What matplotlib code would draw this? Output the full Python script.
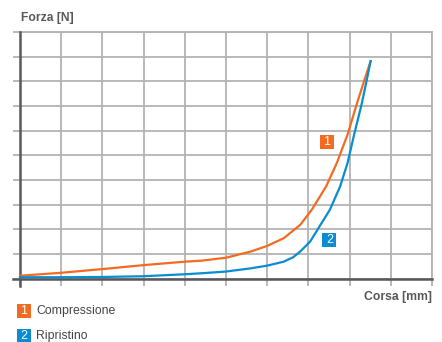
import matplotlib
matplotlib.use("Agg")
import matplotlib.pyplot as plt
from matplotlib.patches import Rectangle

# curve values (arbitrary units, 10 grid cells per axis)
comp_x = [0, 1, 2, 3, 4, 4.4, 5, 5.6, 6, 6.4, 6.8, 7.08, 7.43, 7.69, 7.95, 8.17, 8.35, 8.51]
comp_y = [0.12, 0.24, 0.39, 0.55, 0.69, 0.73, 0.85, 1.1, 1.33, 1.64, 2.18, 2.79, 3.74, 4.69, 5.84, 7.06, 8.0, 8.82]
rip_x = [0, 1, 2, 3, 4, 4.4, 5, 5.6, 6, 6.4, 6.63, 6.8, 7.04, 7.3, 7.52, 7.77, 7.95, 8.11, 8.29, 8.41, 8.51]
rip_y = [0.06, 0.06, 0.07, 0.1, 0.18, 0.22, 0.29, 0.42, 0.53, 0.69, 0.87, 1.1, 1.5, 2.2, 2.79, 3.74, 4.69, 5.84, 7.06, 8.0, 8.82]
labels = ["Compressione", "Ripristino"]
tag_pos = [(7.45, 5.56), (7.51, 1.57)]

ORANGE = "#F26B21"
BLUE = "#0A8DD0"
GRID = "#b3b3b6"
DARK = "#58585a"

plt.rcParams["font.family"] = ["Liberation Sans", "DejaVu Sans"]

W, H = 442, 342
fig = plt.figure(figsize=(W / 100, H / 100), dpi=100)
ax = fig.add_axes([20 / W, (H - 278.7) / H, 412 / W, 246.7 / H])
ax.set_xlim(0, 10)
ax.set_ylim(0, 10)
ax.set_xticks(range(11))
ax.set_yticks(range(11))
ax.set_xticklabels([])
ax.set_yticklabels([])
ax.grid(True, color=GRID, linewidth=1.3)
ax.tick_params(length=5, width=1.3, color=GRID)
for s in ["top", "right"]:
    ax.spines[s].set_color(GRID)
    ax.spines[s].set_linewidth(1.3)
for s in ["left", "bottom"]:
    ax.spines[s].set_visible(False)
ax.set_axisbelow(True)

# dark axes that stick out past the origin
ax.plot([-0.17, 10], [0, 0], color=DARK, lw=1.8, clip_on=False, zorder=3)
ax.plot([0, 0], [-0.28, 10], color=DARK, lw=1.8, clip_on=False, zorder=3)

ax.plot(comp_x, comp_y, color=ORANGE, lw=1.6, zorder=4, clip_on=False,
        solid_joinstyle="round")
ax.plot(rip_x, rip_y, color=BLUE, lw=1.6, zorder=4, clip_on=False,
        solid_joinstyle="round")


def tag(x, y, n, col, trans, w, h):
    # small numbered square, w/h are its size in the given coordinates
    fig.add_artist(Rectangle((x - w / 2, y - h / 2), w, h, transform=trans,
                             fc=col, lw=0, zorder=5))
    fig.text(x, y, str(n), transform=trans, color="white", fontsize=9,
             ha="center", va="center", zorder=6)


for i, col in enumerate([ORANGE, BLUE]):
    tx, ty = tag_pos[i]
    tag(tx, ty, i + 1, col, ax.transData, 14 / 41.2, 14 / 24.67)

fig.text(21 / W, 1 - 18 / H, "Forza [N]", fontsize=8.7, fontweight="bold",
         color=DARK, ha="left", va="center")
fig.text(432 / W, 1 - 297 / H, "Corsa [mm]", fontsize=8.8, fontweight="bold",
         color=DARK, ha="right", va="center")

for i, (lab, col) in enumerate(zip(labels, [ORANGE, BLUE])):
    yc = 1 - (311 + 25 * i) / H
    tag(23.5 / W, yc, i + 1, col, fig.transFigure, 14 / W, 14 / H)
    fig.text(36 / W, yc, lab, color="#444444", fontsize=8.8, ha="left", va="center")

fig.savefig("out.png", dpi=100)
